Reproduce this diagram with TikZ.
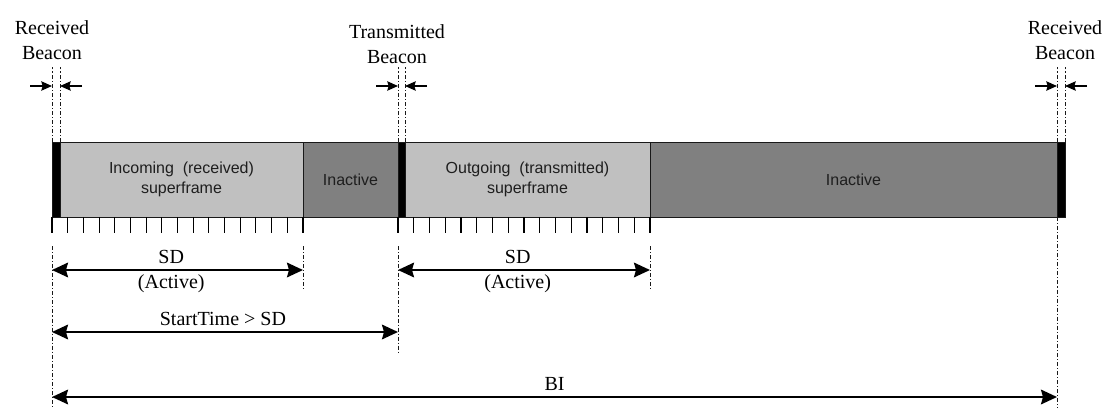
\documentclass[tikz,border=0pt]{standalone}
\usepackage{fontspec}
\setmainfont{Liberation Serif}
\newfontfamily\barfont{Liberation Sans}
\usetikzlibrary{
  arrows.meta,
  calc,
  positioning,
}
\newcommand{\pxl}{0.75pt}
\definecolor{activegray}{RGB}{192,192,192}
\definecolor{idlegray}{RGB}{128,128,128}
\definecolor{bartext}{RGB}{30,30,30}
\tikzstyle{slot} = [
  draw=black!90,
  line width=0.7pt,
  inner sep=0pt,
  outer sep=0pt,
  minimum height=75*\pxl,
  anchor=north west,
  font=\barfont\fontsize{12}{15}\selectfont,
  text=bartext,
  align=center,
]
\tikzstyle{beacon} = [slot, fill=black, minimum width=8*\pxl]
\tikzstyle{active} = [slot, fill=activegray]
\tikzstyle{inactive} = [slot, fill=idlegray]
\tikzstyle{guide} = [
  line width=0.75pt,
  black!90,
  dash pattern=on 3pt off 1.5pt on 0.8pt off 1.5pt,
]
\tikzstyle{tick} = [line width=0.8pt, black]
\tikzstyle{span} = [
  {Stealth[length=12pt,width=11pt,inset=1.5pt]}-{Stealth[length=12pt,width=11pt,inset=1.5pt]},
  line width=1.6pt,
]
\tikzstyle{nudge} = [-{Stealth[length=8pt,width=7pt,inset=1pt]}, line width=1.2pt]
\tikzstyle{label} = [font=\fontsize{15}{18.75}\selectfont, align=center, inner sep=1pt]

\begin{document}
\begin{tikzpicture}[x=\pxl, y=-\pxl, node distance=0pt]
        \useasboundingbox (0,0) rectangle (1115,408);

        % the frame bar
        \node[beacon] (rxb) at (52,142) {};
        \node[active,minimum width=243*\pxl] (in) [right=of rxb] {Incoming\ \ (received)\\superframe};
        \node[inactive,minimum width=95*\pxl] (idle1) [right=of in] {Inactive};
        \node[beacon,minimum width=7*\pxl] (txb) [right=of idle1] {};
        \node[active,minimum width=245*\pxl] (out) [right=of txb] {Outgoing\ \ (transmitted)\\superframe};
        \node[inactive,minimum width=407*\pxl] (idle2) [right=of out] {Inactive};
        \node[beacon] (rxb2) [right=of idle2] {};

        % rows
        \coordinate (guidetop) at (0,67);
        \coordinate (nudgerow) at (0,86);
        \coordinate (lowtop) at (0,246);
        \coordinate (sdrow) at (0,270);
        \coordinate (shortend) at (0,289);
        \coordinate (startrow) at (0,332);
        \coordinate (longend) at (0,352);
        \coordinate (birow) at (0,397);
        \coordinate (guideend) at (0,408);

        % slot ticks
        \foreach \i in {0,...,16} {
            \draw[tick] ($(rxb.south west)!\i/16!(in.south east)$) -- ++(0,16);
            \draw[tick] ($(txb.south west)!\i/16!(out.south east)$) -- ++(0,16);
        }

        % beacon labels
        \node[label] (rxlabel) at (52,40) {Received\\Beacon};
        \node[label] (txlabel) at (397,44) {Transmitted\\Beacon};
        \node[label] (rxlabel2) at (1065,40) {Received\\Beacon};

        % beacon guides
        \foreach \b in {rxb,txb,rxb2} {
            \draw[guide] (\b.north west) -- (\b.north west |- guidetop);
            \draw[guide] (\b.north east) -- (\b.north east |- guidetop);
            \draw[nudge] ($(\b.north west |- nudgerow)+(-22,0)$) -- (\b.north west |- nudgerow);
            \draw[nudge] ($(\b.north east |- nudgerow)+(22,0)$) -- (\b.north east |- nudgerow);
        }

        % lower guides
        \draw[guide] (rxb.south west |- lowtop) -- (rxb.south west |- guideend);
        \draw[guide] (in.south east |- lowtop) -- (in.south east |- shortend);
        \draw[guide] (txb.south west |- lowtop) -- (txb.south west |- longend);
        \draw[guide] (out.south east |- lowtop) -- (out.south east |- shortend);
        \draw[guide] (rxb2.south west) -- (rxb2.south west |- guideend);

        % spans
        \draw[span] (rxb.south west |- sdrow) -- (in.south east |- sdrow)
            node[label,pos=0.475,above=3pt] {SD}
            node[label,pos=0.475,below=2pt] {(Active)};
        \draw[span] (txb.south west |- sdrow) -- (out.south east |- sdrow)
            node[label,pos=0.475,above=3pt] {SD}
            node[label,pos=0.475,below=2pt] {(Active)};
        \draw[span] (rxb.south west |- startrow) -- (txb.south west |- startrow)
            node[label,pos=0.494,above=3pt] {StartTime > SD};
        \draw[span] (rxb.south west |- birow) -- (rxb2.south west |- birow)
            node[label,midway,above=3pt] {BI};

        \end{tikzpicture}
\end{document}
